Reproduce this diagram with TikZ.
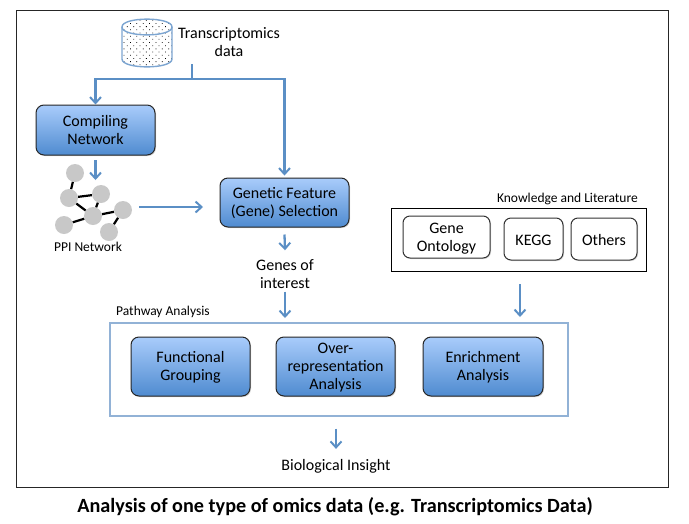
\documentclass[tikz,border=0pt]{standalone}
\usepackage{fontspec}
\setmainfont{Carlito}
\usetikzlibrary{arrows.meta, positioning, fit, calc, patterns.meta, shadows}
\definecolor{omblue}{HTML}{5B8FC5}
\definecolor{omtop}{HTML}{A9CCFB}
\definecolor{ombot}{HTML}{4F8BD0}
\definecolor{omframe}{HTML}{92B2D6}
\definecolor{omgrey}{HTML}{C8C8C8}
\tikzset{
  stage/.style={
    draw=black!85, top color=omtop, bottom color=ombot, line width=1pt,
    rounded corners=8pt, align=center, font=\fontsize{16}{18}\selectfont,
    inner sep=0pt, minimum width=119pt, minimum height=50pt,
    text height=32.5pt, text depth=4pt,
    drop shadow={shadow xshift=1pt, shadow yshift=-1pt, opacity=.35}},
  source/.style={
    draw=black!80, fill=white, line width=1pt, rounded corners=7pt,
    align=center, font=\fontsize{16}{18}\selectfont, inner sep=0pt,
    minimum height=42pt, text height=16pt, text depth=4pt,
    drop shadow={shadow xshift=1pt, shadow yshift=-1pt, opacity=.3}},
  note/.style={font=\fontsize{16}{18}\selectfont, align=center, inner sep=0pt},
  small/.style={font=\fontsize{13.5}{15}\selectfont, inner sep=0pt},
  flow/.style={-{Straight Barb[length=6pt, width=11pt, line width=2pt]},
    draw=omblue, line width=2.3pt},
  hub/.style={circle, fill=omgrey, minimum size=18pt, inner sep=0pt},
  link/.style={draw=black, line width=2.2pt},
  dotfill/.style={pattern={Dots[distance=4.5pt, radius=.55pt, angle=45]}, pattern color=black},
}
\begin{document}
\begin{tikzpicture}[x=1pt, y=-1pt]
  \useasboundingbox (0,0) rectangle (689,523);
  \node[draw=black!85, line width=1pt, minimum width=652pt, minimum height=477pt,
        inner sep=0pt, anchor=north west] (page) at (16,10) {};
  % data source and the split below it
  \draw[draw=omblue!80, line width=1.4pt, dotfill] (122,27) .. controls (122,16.5) and (172,16.5) .. (172,27)
    -- (172,59) .. controls (172,69.5) and (122,69.5) .. (122,59) -- cycle;
  \draw[draw=omblue!80, line width=1.4pt] (122,27) .. controls (122,37.5) and (172,37.5) .. (172,27);
  \node[note, anchor=north] (datatxt) at (229,27) {Transcriptomics\\data};
  \node[stage, text height=32pt] (compile) at (95.5,130) {Compiling\\Network};
  \node[stage, minimum width=129pt, minimum height=49pt] (select) at (284.5,202.5)
       {Genetic Feature\\(Gene) Selection};
  \coordinate (stem) at (192,64);
  \coordinate (split) at (192,79);
  \draw[flow, arrows=-] (stem) -- (split);
  \draw[flow] (split) -| (compile.north);
  \draw[flow] (split) -| ($(select.north)+(0,-2)$);
  % small network
  \node[hub] (n1) at (75,173) {};
  \node[hub] (n2) at (69,198) {};
  \node[hub] (n3) at (101,194) {};
  \node[hub] (n4) at (93,216) {};
  \node[hub] (n5) at (123,210) {};
  \node[hub] (n6) at (64,225) {};
  \node[hub] (n7) at (109,232) {};
  \draw[link] (n1) -- (n2);
  \draw[link] (n2) -- (n3);
  \draw[link] (n2) -- (n4);
  \draw[link] (n3) -- (n4);
  \draw[link] (n4) -- (n5);
  \draw[link] (n4) -- (n6);
  \draw[link] (n5) -- (n7);
  \node[small] (ppi) at (88,247) {PPI Network};
  \coordinate (netout) at (139,207);
  \coordinate (netin) at (203,207);
  \draw[flow] (netout) -- (netin);
  \coordinate (cnout) at (95.5,160);
  \coordinate (cnin) at (95.5,180);
  \draw[flow] (cnout) -- (cnin);
  % genes
  \node[note] (genes) at (285,274) {Genes of\\interest};
  \draw[flow] ($(select.south)+(0,7)$) -- ($(genes.north)+(0,-9)$);
  % pathway analysis
  \node[draw=omframe, line width=1.6pt, minimum width=458pt, minimum height=93pt,
        inner sep=0pt, anchor=north west,
        drop shadow={shadow xshift=1pt, shadow yshift=-1pt, opacity=.2}, fill=white] (pathway) at (109,322) {};
  \node[small, anchor=west] (pathlbl) at (116,312) {Pathway Analysis};
  \node[stage, minimum height=59pt] (func) at (190.5,366.5) {Functional\\Grouping};
  \node[stage, minimum height=59pt, text height=49pt] (over) at (335.5,366.5) {Over-\\representation\\Analysis};
  \node[stage, minimum height=59pt, minimum width=120pt] (enrich) at (483,366.5) {Enrichment\\Analysis};
  \coordinate (genesin) at (285,318);
  \draw[flow] ($(genes.south)+(0,3)$) -- (genesin);
  % knowledge
  \node[draw=black, line width=1pt, minimum width=255pt, minimum height=63pt,
        inner sep=0pt, anchor=north west] (know) at (391,208) {};
  \node[small, anchor=east] (knowlbl) at (638,199) {Knowledge and Literature};
  \node[source, minimum width=87pt, text height=32pt] (go) at (446.5,237) {Gene\\Ontology};
  \node[source, minimum width=59pt] (kegg) at (533.5,239) {KEGG};
  \node[source, minimum width=66pt] (others) at (604,239) {Others};
  \coordinate (knowin) at (520,317);
  \draw[flow] (know.south -| knowin) ++(0,12) -- (knowin);
  % result
  \node[note] (insight) at (336,466) {Biological Insight};
  \draw[flow] ($(pathway.south -| insight)+(0,12)$) -- ($(insight.north)+(0,-10)$);
  \node[font=\fontsize{20.2}{22}\selectfont\bfseries, inner sep=0pt] (title) at (335,507)
       {Analysis of one type of omics data (e.g. Transcriptomics Data)};
\end{tikzpicture}
\end{document}
